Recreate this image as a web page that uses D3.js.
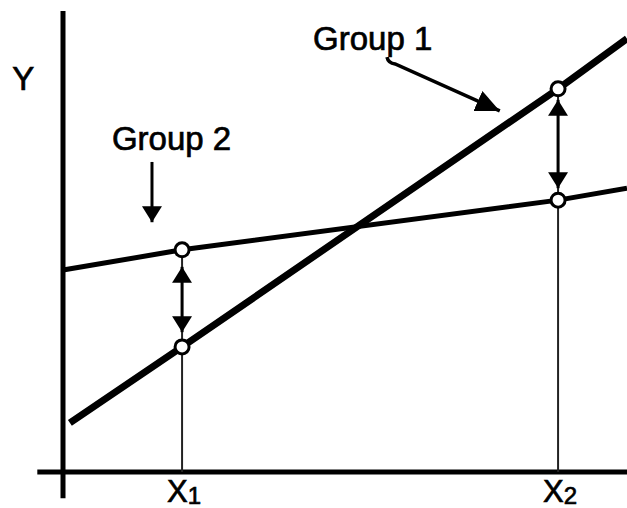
<!DOCTYPE html>
<html>
<head>
<meta charset="utf-8">
<script src="https://cdn.jsdelivr.net/npm/d3@7"></script>
<style>
  html, body { margin: 0; padding: 0; background: #fff; }
  text { font-family: 'Liberation Sans', Arial, sans-serif; fill: #000; stroke: #000; stroke-width: 0.7px; }
</style>
</head>
<body>
<div id="chart"></div>
<script>
const width = 627, height = 508

// x positions of the two marked points and their subscripts
const xValues = [1.9, 7.9]
const xSubs = ['1', '2']

// lines drawn as [x, y] in data units
const group1Line = [[0.11, 1.07], [1.9, 2.72], [7.9, 8.33], [9, 9.42]]
const group2Line = [[0, 4.39], [1.9, 4.83], [7.9, 5.91], [9, 6.17]]

// y of the open circles at X1, X2
const group1Points = [2.72, 8.33]
const group2Points = [4.83, 5.91]

// double arrows between groups at X1, X2 ([top, bottom])
const gapArrows = [[4.46, 3.04], [8.09, 6.17]]

const labels = ['Group 1', 'Group 2']

const xScale = d3.scaleLinear().domain([0, 9]).range([63, 627])
const yScale = d3.scaleLinear().domain([0, 10]).range([472, 12])

const svg = d3.select('#chart').append('svg')
              .attr('width', width)
              .attr('height', height)
              .style('background', '#fff')

const defs = svg.append('defs')
defs.append('marker')
    .attr('id', 'head')
    .attr('markerUnits', 'userSpaceOnUse')
    .attr('viewBox', '0 0 16 20')
    .attr('refX', 16).attr('refY', 10)
    .attr('markerWidth', 16).attr('markerHeight', 20)
    .attr('orient', 'auto-start-reverse')
    .append('path').attr('d', 'M0,0 L16,10 L0,20 Z').attr('fill', '#000')
defs.append('marker')
    .attr('id', 'bighead')
    .attr('markerUnits', 'userSpaceOnUse')
    .attr('viewBox', '0 0 24 22')
    .attr('refX', 24).attr('refY', 11)
    .attr('markerWidth', 24).attr('markerHeight', 22)
    .attr('orient', 'auto')
    .append('path').attr('d', 'M0,0 L24,11 L0,22 Z').attr('fill', '#000')

// axes
svg.append('line')
   .attr('x1', xScale(0)).attr('x2', xScale(0))
   .attr('y1', yScale(10.02)).attr('y2', yScale(-0.57))
   .attr('stroke', '#000').attr('stroke-width', 5)
svg.append('line')
   .attr('x1', xScale(-0.41)).attr('x2', xScale(9))
   .attr('y1', yScale(0)).attr('y2', yScale(0))
   .attr('stroke', '#000').attr('stroke-width', 5)

// drop lines
svg.selectAll('.drop').data(xValues).join('line')
   .attr('class', 'drop')
   .attr('x1', d => xScale(d)).attr('x2', d => xScale(d))
   .attr('y1', (d, i) => yScale(Math.max(group1Points[i], group2Points[i])))
   .attr('y2', yScale(0))
   .attr('stroke', '#222').attr('stroke-width', 2)

const line = d3.line().x(d => xScale(d[0])).y(d => yScale(d[1]))

svg.append('path').datum(group2Line)
   .attr('d', line).attr('fill', 'none')
   .attr('stroke', '#000').attr('stroke-width', 5)
svg.append('path').datum(group1Line)
   .attr('d', line).attr('fill', 'none')
   .attr('stroke', '#000').attr('stroke-width', 7)

// double arrows
svg.selectAll('.gap').data(gapArrows).join('line')
   .attr('class', 'gap')
   .attr('x1', (d, i) => xScale(xValues[i])).attr('x2', (d, i) => xScale(xValues[i]))
   .attr('y1', d => yScale(d[0])).attr('y2', d => yScale(d[1]))
   .attr('stroke', '#000').attr('stroke-width', 3)
   .attr('marker-start', 'url(#head)')
   .attr('marker-end', 'url(#head)')

// open circles
const pts = xValues.flatMap((x, i) => [[x, group1Points[i]], [x, group2Points[i]]])
svg.selectAll('.pt').data(pts).join('circle')
   .attr('class', 'pt')
   .attr('cx', d => xScale(d[0])).attr('cy', d => yScale(d[1]))
   .attr('r', 7)
   .attr('fill', '#fff').attr('stroke', '#000').attr('stroke-width', 3)

// group 2 pointer
svg.append('line')
   .attr('x1', xScale(1.42)).attr('x2', xScale(1.42))
   .attr('y1', yScale(6.74)).attr('y2', yScale(5.43))
   .attr('stroke', '#000').attr('stroke-width', 3)
   .attr('marker-end', 'url(#head)')

// group 1 pointer, hooked off the p
const hook = d3.path()
hook.moveTo(xScale(5.17), yScale(9.02))
hook.quadraticCurveTo(xScale(5.19), yScale(8.89), xScale(5.3), yScale(8.87))
hook.lineTo(xScale(6.97), yScale(7.85))
svg.append('path')
   .attr('d', hook.toString())
   .attr('fill', 'none')
   .attr('stroke', '#000').attr('stroke-width', 3.5)
   .attr('marker-end', 'url(#bighead)')

// labels
svg.append('text').text(labels[0])
   .attr('x', xScale(3.99)).attr('y', yScale(9.17))
   .style('font-size', '33px')
svg.append('text').text(labels[1])
   .attr('x', xScale(0.78)).attr('y', yScale(7.0))
   .style('font-size', '33px')
svg.append('text').text('Y')
   .attr('x', xScale(-0.81)).attr('y', yScale(8.3))
   .style('font-size', '33px')

const xl = svg.selectAll('.xl').data(xValues).join('text')
   .attr('class', 'xl')
   .attr('text-anchor', 'middle')
   .attr('x', d => xScale(d) + 2)
   .attr('y', 502)
   .style('font-size', '31px')
xl.append('tspan').text('X')
xl.append('tspan').text((d, i) => xSubs[i])
  .attr('dy', 2).style('font-size', '24px')
</script>
</body>
</html>
